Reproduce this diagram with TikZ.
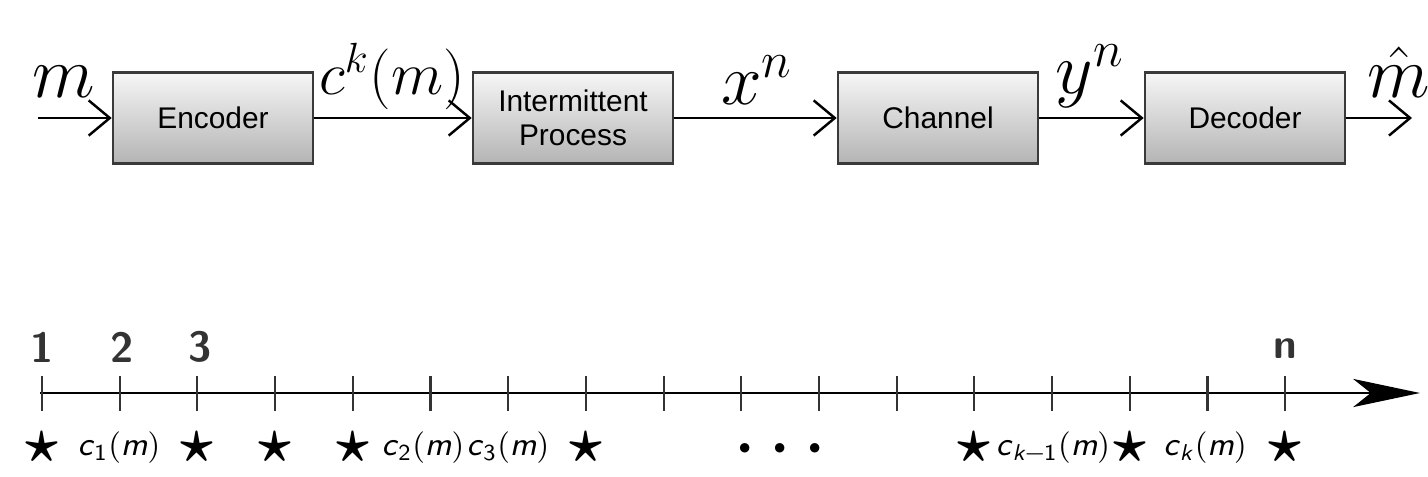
\documentclass[tikz,border=0pt]{standalone}
\usepackage{amssymb}
\usepackage{amsmath}
\usepackage{fontspec}
\newfontfamily\boxfont{Liberation Sans}
\usepackage{xcolor}
\definecolor{boxedge}{HTML}{3a3a3a}
\definecolor{boxtop}{HTML}{f6f6f6}
\definecolor{boxbottom}{HTML}{b4b4b4}
\usetikzlibrary{arrows.meta, positioning, calc}

\begin{document}
\begin{tikzpicture}[
  x=0.01cm, y=-0.01cm,
  block/.style={rectangle, draw=boxedge, line width=0.7pt,
    top color=boxtop, bottom color=boxbottom,
    minimum width=2.0cm, minimum height=0.91cm, align=center,
    font=\boxfont\fontsize{8.5}{9.6}\selectfont},
  link/.style={-{Straight Barb[length=6pt, width=10pt]}, line width=0.7pt},
  sig/.style={font=\fontsize{20}{22}\selectfont},
  tick/.style={line width=0.6pt, draw=black!80},
  starmark/.style={font=\LARGE\boldmath, inner sep=0pt},
  slot/.style={font=\sffamily\fontsize{9.3}{11}\selectfont, inner sep=0pt},
  index/.style={font=\sffamily\bfseries\large, text=black!80, inner sep=0pt}
]
\useasboundingbox (0,0) rectangle (1428,476);

% chain of blocks
\node[block] (enc) at (213,118) {Encoder};
\node[block] (proc) at (573,118) {Intermittent\\Process};
\node[block] (chan) at (938,118) {Channel};
\node[block] (dec) at (1245,118) {Decoder};

\coordinate (in) at (38,118);
\coordinate (out) at (1412,118);

\draw[link] (in) -- (enc);
\draw[link] (enc) -- (proc);
\draw[link] (proc) -- (chan);
\draw[link] (chan) -- (dec);
\draw[link] (dec) -- (out);

\node[sig] (msg) at (64,82) {$m$};
\node[sig, font=\fontsize{18}{20}\selectfont] (code) at (392,76) {$c^k(m)$};
\node[sig] (xn) at (757,80) {$x^n$};
\node[sig] (yn) at (1090,76) {$y^n$};
\node[sig] (est) at (1399,72) {$\hat{m}$};

% time axis
\coordinate (start) at (40,393);
\coordinate (end) at (1420,393);
\draw[line width=0.7pt, -{Stealth[length=19pt, width=8pt, inset=5pt]}] (start) -- (end);

\foreach \i in {0,...,16}{
  \coordinate (t\i) at ({42+77.7*\i},393);
  \draw[tick] ($(t\i)+(0,-17)$) -- ($(t\i)+(0,18)$);
}

\node[index] at (42,347) {1};
\node[index] at (122,347) {2};
\node[index] at (200,347) {3};
\node[index] at (1285,349) {n};

\foreach \i in {0,2,3,4,7,12,14,16}
  \node[starmark] (s\i) at ({42+77.7*\i},447) {$\star$};

\node[slot] (c1) at (119,448) {\textit{c}\textsubscript{1}$($\textit{m}$)$};
\node[slot] (c2) at (423,448) {\textit{c}\textsubscript{2}$($\textit{m}$)$};
\node[slot] (c3) at (508,448) {\textit{c}\textsubscript{3}$($\textit{m}$)$};
\node[slot] (ck1) at (1053,448) {\textit{c}\textsubscript{\textit{k}\kern-0.5pt$-$\kern-0.5pt1}$($\textit{m}$)$};
\node[slot] (ck) at (1205,448) {\textit{c}\textsubscript{\textit{k}}$($\textit{m}$)$};

\node[starmark] (gap) at (780,449) {${\cdot}\kern4.5pt{\cdot}\kern4.5pt{\cdot}$};
\end{tikzpicture}
\end{document}
